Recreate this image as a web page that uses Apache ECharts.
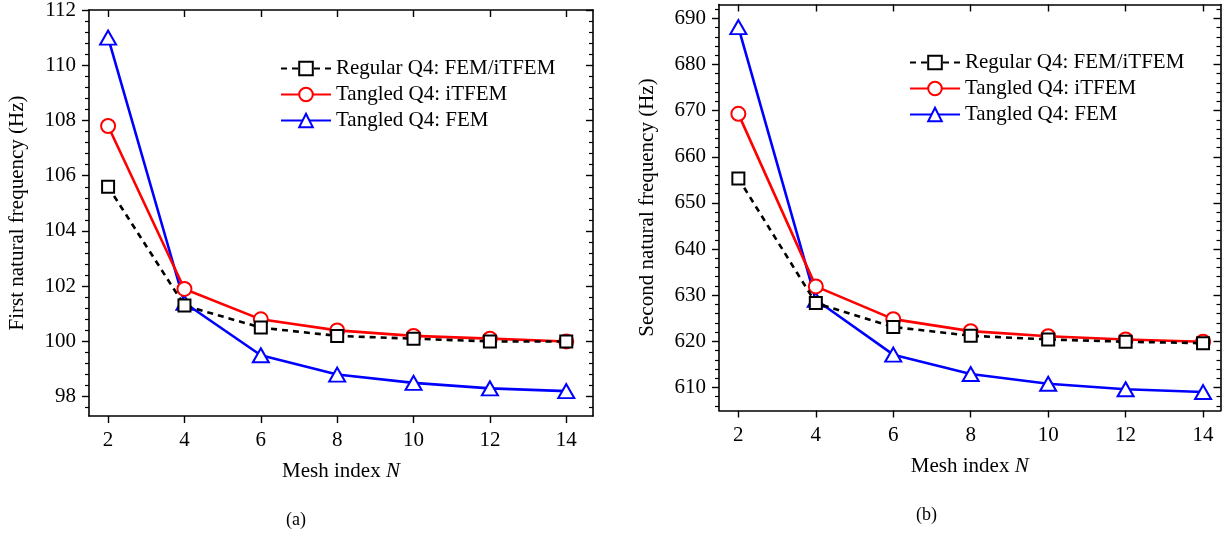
<!DOCTYPE html>
<html>
<head>
<meta charset="utf-8">
<script src="https://cdn.jsdelivr.net/npm/echarts@6/dist/echarts.min.js"></script>
<style>
html,body{margin:0;padding:0;background:#fff;}
#c{width:1225px;height:537px;}
</style>
</head>
<body>
<div id="c"></div>
<script>
// ---- data ----
const meshN = [2, 4, 6, 8, 10, 12, 14];
const regularA = [105.6, 101.3, 100.5, 100.2, 100.1, 100.0, 100.0];
const itfemA   = [107.8, 101.9, 100.8, 100.4, 100.2, 100.1, 100.0];
const femA     = [111.0, 101.4, 99.5, 98.8, 98.5, 98.3, 98.2];
const regularB = [655.3, 628.3, 623.1, 621.2, 620.4, 619.9, 619.6];
const itfemB   = [669.3, 631.9, 624.8, 622.2, 621.1, 620.4, 619.9];
const femB     = [688.1, 629.0, 617.1, 612.9, 610.8, 609.6, 609.0];
const xTicks = [2, 4, 6, 8, 10, 12, 14];
const yTicksA = [98, 100, 102, 104, 106, 108, 110, 112];
const yTicksB = [610, 620, 630, 640, 650, 660, 670, 680, 690];
const names = ['Regular Q4: FEM/iTFEM', 'Tangled Q4: iTFEM', 'Tangled Q4: FEM'];

function minorTicks(major, sub, lo, hi) {
  const step = (major[1] - major[0]) / sub;
  const out = [];
  for (let v = major[0] - step * sub; v <= major[major.length - 1] + step * sub + 1e-9; v += step) {
    const r = Math.round(v * 1000) / 1000;
    if (r < lo || r > hi) continue;
    if (major.some(m => Math.abs(m - r) < 1e-6)) continue;
    out.push(r);
  }
  return out;
}
const pairs = (ys) => meshN.map((x, i) => [x, ys[i]]);

const FONT = 'Liberation Serif';
const FS = 21;
const black = '#000';
const axisLine = { show: true, lineStyle: { color: black, width: 1.6 } };

const grids = [
  { left: 89, top: 10, width: 504, height: 406, xr: [1.5, 14.7], yr: [97.3, 112], yt: yTicksA,
    ymin: minorTicks(yTicksA, 5, 97.3, 112), yname: 'First natural frequency (Hz)' },
  { left: 719, top: 4.5, width: 501.5, height: 406, xr: [1.5, 14.45], yr: [605, 693], yt: yTicksB,
    ymin: minorTicks(yTicksB, 5, 605, 693), yname: 'Second natural frequency (Hz)' }
];

const option = {
  animation: false,
  backgroundColor: '#fff',
  grid: grids.map(g => ({ left: g.left, top: g.top, width: g.width, height: g.height,
    containLabel: false, outerBoundsMode: 'none' })),
  xAxis: [],
  yAxis: [],
  legend: [],
  series: [],
  graphic: [
    { type: 'text', left: 286, top: 511, style: { text: '(a)', font: '18px "Liberation Serif"', fill: black } },
    { type: 'text', left: 916, top: 506, style: { text: '(b)', font: '18px "Liberation Serif"', fill: black } }
  ]
};

grids.forEach((g, gi) => {
  const xb = option.xAxis.length;
  option.xAxis.push({
    type: 'value', gridIndex: gi, position: 'bottom', min: g.xr[0], max: g.xr[1],
    axisLine, splitLine: { show: false },
    axisTick: { show: true, inside: false, length: 7, customValues: xTicks, lineStyle: { color: black, width: 1.4 } },
    axisLabel: { show: true, customValues: xTicks, margin: 14, fontSize: FS, fontFamily: FONT, color: black },
    name: 'Mesh index {i|N}', nameLocation: 'middle', nameGap: 45,
    nameTextStyle: { fontSize: FS, fontFamily: FONT, color: black, verticalAlign: 'top',
      rich: { i: { fontStyle: 'italic', fontSize: FS, fontFamily: FONT, color: black } } }
  });
  option.xAxis.push({
    type: 'value', gridIndex: gi, position: 'top', min: g.xr[0], max: g.xr[1],
    axisLine, splitLine: { show: false },
    axisTick: { show: true, inside: true, length: 7, customValues: xTicks, lineStyle: { color: black, width: 1.4 } },
    axisLabel: { show: false }
  });
  const yb = option.yAxis.length;
  option.yAxis.push({
    type: 'value', gridIndex: gi, position: 'left', min: g.yr[0], max: g.yr[1],
    axisLine, splitLine: { show: false },
    axisTick: { show: true, inside: false, length: 7, customValues: g.yt, lineStyle: { color: black, width: 1.4 } },
    axisLabel: { show: true, customValues: g.yt, margin: 13, fontSize: FS, fontFamily: FONT, color: black },
    name: g.yname, nameLocation: 'middle', nameGap: 61,
    nameTextStyle: { fontSize: FS, fontFamily: FONT, color: black }
  });
  option.yAxis.push({
    type: 'value', gridIndex: gi, position: 'left', min: g.yr[0], max: g.yr[1],
    axisLine: { show: false }, splitLine: { show: false },
    axisTick: { show: true, inside: false, length: 4, customValues: g.ymin, lineStyle: { color: black, width: 1.2 } },
    axisLabel: { show: false }
  });
  option.yAxis.push({
    type: 'value', gridIndex: gi, position: 'right', min: g.yr[0], max: g.yr[1],
    axisLine, splitLine: { show: false },
    axisTick: { show: true, inside: true, length: 7, customValues: g.yt, lineStyle: { color: black, width: 1.4 } },
    axisLabel: { show: false }
  });
  option.yAxis.push({
    type: 'value', gridIndex: gi, position: 'right', min: g.yr[0], max: g.yr[1],
    axisLine: { show: false }, splitLine: { show: false },
    axisTick: { show: true, inside: true, length: 4, customValues: g.ymin, lineStyle: { color: black, width: 1.2 } },
    axisLabel: { show: false }
  });

  const reg = gi === 0 ? regularA : regularB;
  const itf = gi === 0 ? itfemA : itfemB;
  const fem = gi === 0 ? femA : femB;
  option.series.push({
    type: 'line', name: names[2], xAxisIndex: xb, yAxisIndex: yb, data: pairs(fem),
    symbol: 'emptyTriangle', symbolSize: [16, 14], z: 2,
    lineStyle: { color: '#0000ff', width: 2.6 }, itemStyle: { color: '#0000ff', borderWidth: 2.2 }
  });
  option.series.push({
    type: 'line', name: names[1], xAxisIndex: xb, yAxisIndex: yb, data: pairs(itf),
    symbol: 'emptyCircle', symbolSize: 14, z: 3,
    lineStyle: { color: '#ff0000', width: 2.6 }, itemStyle: { color: '#ff0000', borderWidth: 2.2 }
  });
  option.series.push({
    type: 'line', name: names[0], xAxisIndex: xb, yAxisIndex: yb, data: pairs(reg),
    symbol: 'emptyRect', symbolSize: 12, z: 4,
    lineStyle: { color: black, width: 2.6, type: [6, 5] }, itemStyle: { color: black, borderWidth: 1.8 }
  });
  option.legend.push({
    data: names, orient: 'vertical', left: gi === 0 ? 280 : 909, top: gi === 0 ? 58 : 52,
    padding: 0, itemWidth: 50, itemHeight: 17, itemGap: 5, selectedMode: false,
    textStyle: { fontSize: FS, fontFamily: FONT, color: black }
  });
});

const chart = echarts.init(document.getElementById('c'), null, { renderer: 'canvas' });
chart.setOption(option);
</script>
</body>
</html>
